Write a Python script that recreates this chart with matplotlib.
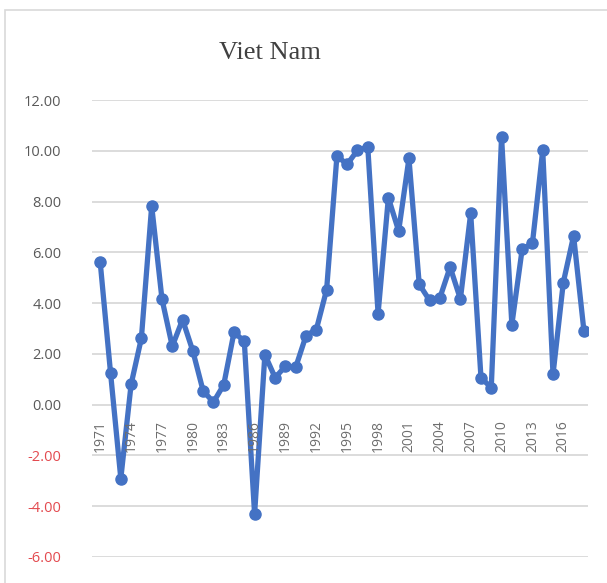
import numpy as np
import matplotlib.pyplot as plt
from matplotlib.patches import Rectangle

years = list(range(1971, 2019))
growth = [5.60, 1.26, -2.91, 0.80, 2.62, 7.83, 4.16, 2.30, 3.35, 2.11,
          0.54, 0.10, 0.78, 2.85, 2.50, -4.31, 1.97, 1.06, 1.52, 1.48,
          2.72, 2.96, 4.53, 9.79, 9.47, 10.02, 10.15, 3.58, 8.15, 6.84,
          9.70, 4.74, 4.11, 4.20, 5.42, 4.16, 7.54, 1.06, 0.67, 10.55,
          3.15, 6.12, 6.36, 10.02, 1.19, 4.81, 6.65, 2.92]
year_labels = years[::3]
y_ticks = [-6, -4, -2, 0, 2, 4, 6, 8, 10, 12]

grey = "#595959"
red = "#E34A4F"

fig = plt.figure(figsize=(6.07, 5.83), dpi=100)
fig.patches.append(Rectangle((5 / 607, -0.1), 1.2, 1 - 10 / 583 + 0.1,
                             transform=fig.transFigure, fill=False,
                             edgecolor="#D9D9D9", linewidth=1.2))
ax = fig.add_axes([92 / 607, 26 / 583, 496 / 607, 457 / 583])

ax.plot(years, growth, color="#4472C4", linewidth=3.8, marker="o",
        markersize=8, zorder=3)

ax.set_xlim(1970.2, 2018.4)
ax.set_ylim(-6, 12)
ax.set_yticks(y_ticks)
ax.set_yticklabels([f"{v:.2f}" for v in y_ticks], fontsize=10.5,
                   family="Open Sans")
for lab, v in zip(ax.get_yticklabels(), y_ticks):
    lab.set_color(red if v < 0 else grey)
ax.tick_params(axis="y", length=0, pad=22)
ax.set_xticks([])
ax.grid(axis="y", color="#D9D9D9", linewidth=1.3)
ax.set_axisbelow(True)
for s in ax.spines.values():
    s.set_visible(False)

# category labels sit just under the zero line
for yr in year_labels:
    ax.annotate(str(yr), (yr, 0), xytext=(0, -11), textcoords="offset points",
                rotation=90, ha="center", va="top", fontsize=10,
                family="Open Sans", color="#6E6E6E")

fig.text(270 / 607, 1 - 53 / 583, "Viet Nam", ha="center", va="center",
         fontsize=19, family="Liberation Serif", color="#404040")

fig.savefig("out.png", dpi=100)
